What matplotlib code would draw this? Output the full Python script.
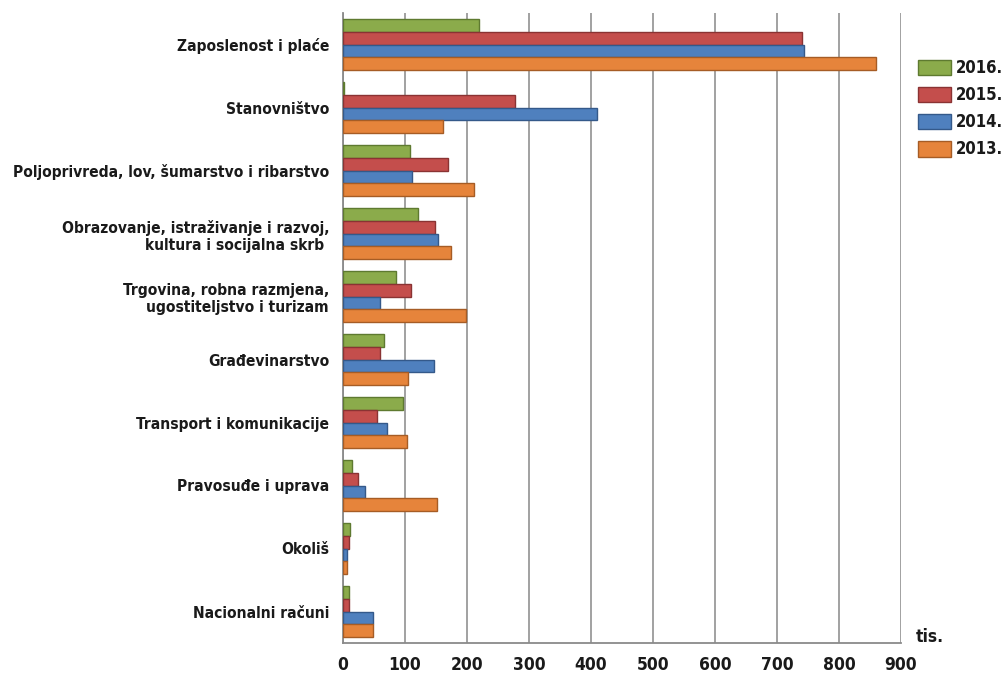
import matplotlib
matplotlib.use('Agg')
import matplotlib.pyplot as plt
import numpy as np

# uski i podebljani font kao u originalu
plt.rcParams['font.family'] = ['DejaVu Sans']
plt.rcParams['font.stretch'] = 'condensed'
plt.rcParams['font.weight'] = 'bold'

kategorije = ['Zaposlenost i plaće',
              'Stanovništvo',
              'Poljoprivreda, lov, šumarstvo i ribarstvo',
              'Obrazovanje, istraživanje i razvoj,\nkultura i socijalna skrb ',
              'Trgovina, robna razmjena,\nugostiteljstvo i turizam',
              'Građevinarstvo',
              'Transport i komunikacije',
              'Pravosuđe i uprava',
              'Okoliš',
              'Nacionalni računi']

godine = ['2016.', '2015.', '2014.', '2013.']
v2016 = [219, 1, 108, 121, 86, 66, 96, 14, 12, 10]
v2015 = [741, 277, 170, 149, 109, 60, 55, 24, 10, 10]
v2014 = [743, 410, 112, 154, 60, 147, 71, 35, 6, 48]
v2013 = [860, 161, 211, 174, 199, 105, 103, 152, 7, 48]

boje = ['#8bab4b', '#c44e4c', '#4f80be', '#e6843b']
rubovi = ['#5e7a30', '#8a3333', '#34598a', '#a65c25']

fig = plt.figure(figsize=(10.05, 6.74), dpi=100)
ax = fig.add_axes([343/1005, 1-643/674, 558/1005, 630/674])

y = np.arange(len(kategorije))
h = 0.205
serije = [v2016, v2015, v2014, v2013]
for i, vals in enumerate(serije):
    ax.barh(y - 1.5*h + i*h, vals, height=h, color=boje[i], edgecolor=rubovi[i],
            linewidth=1, label=godine[i], zorder=3)

ax.set_ylim(len(kategorije) - 0.5, -0.5)
ax.set_xlim(0, 900)
ax.set_xticks(range(0, 901, 100))
ax.set_yticks(y)
ax.set_yticklabels(kategorije, fontsize=11.2, multialignment='right', color='#1a1a1a')
ax.tick_params(axis='x', labelsize=12.5, length=0, pad=9, labelcolor='#1a1a1a')
ax.tick_params(axis='y', length=0, pad=10)
ax.grid(axis='x', color='#9a9a9a', linewidth=1.3, zorder=0)
for s in ['top', 'right']:
    ax.spines[s].set_visible(False)
for s in ['left', 'bottom']:
    ax.spines[s].set_color('#8a8a8a')
    ax.spines[s].set_linewidth(1.3)

fig.legend(loc='upper left', bbox_to_anchor=(918/1005, 1-59/674), frameon=False,
           fontsize=12, handlelength=2.0, handleheight=1.05, labelspacing=0.55,
           handletextpad=0.3, borderaxespad=0, borderpad=0, labelcolor='#1a1a1a')
fig.text(916/1005, 1-637/674, 'tis.', fontsize=12.5, va='center', ha='left',
         color='#1a1a1a')

fig.savefig('out.png', dpi=100)
